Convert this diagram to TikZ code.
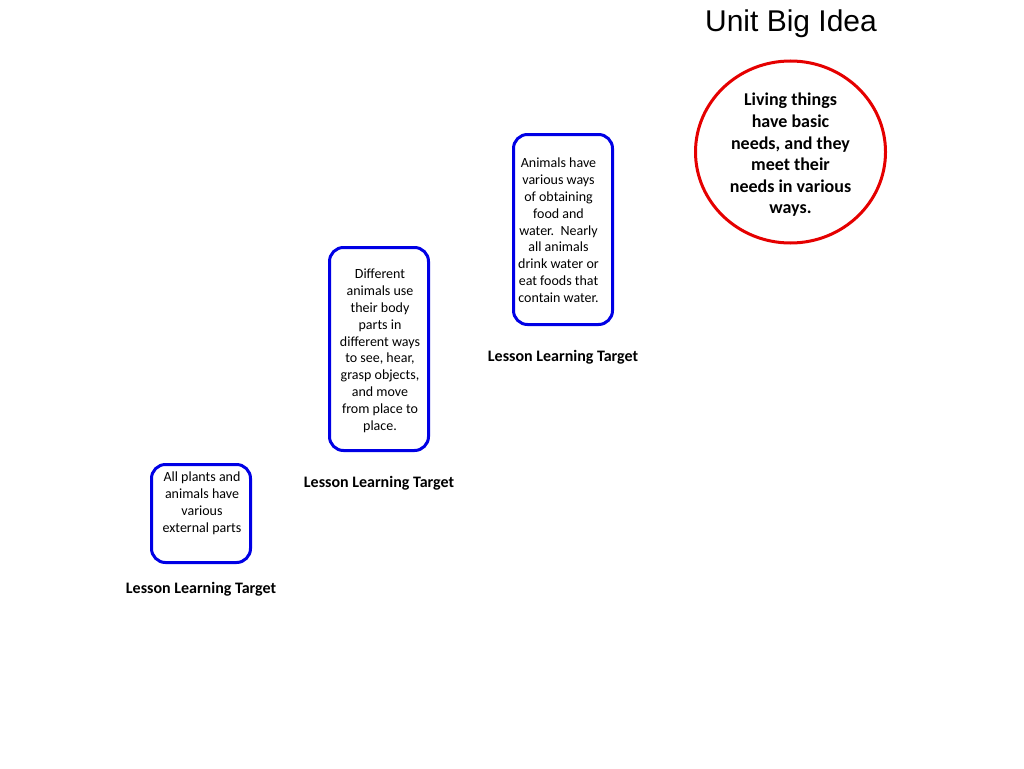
\documentclass[tikz,border=0pt]{standalone}
\usepackage{fontspec}
\setmainfont{Carlito}
\newfontfamily\titlefont{Liberation Sans}
\usetikzlibrary{positioning}

\tikzset{
  targetbox/.style={draw=blue!90!black,line width=3pt,rounded corners=14pt,
    minimum width=99pt,inner sep=0pt},
  boxtext/.style={anchor=north,align=center,inner sep=0pt,
    font=\fontsize{14}{16.8}\selectfont},
  targetlabel/.style={font=\fontsize{16}{19}\selectfont\bfseries,inner sep=0pt}
}

\begin{document}
\begin{tikzpicture}
           [x=1pt,y=-1pt]
           \useasboundingbox (0,0) rectangle (1024,768);

           % title
           \node[font=\titlefont\fontsize{30}{36}\selectfont,inner sep=0pt]
             (title) at (791,24) {Unit Big Idea};

           % big idea circle
           \draw[red!90!black,line width=3pt] (790.5,152) ellipse (95pt and 91pt);
           \node[anchor=north,align=center,inner sep=0pt,
             font=\fontsize{18}{21.6}\selectfont\bfseries] (idea) at (790.5,93)
             {Living things\\have basic\\needs, and they\\meet their\\needs in various\\ways.};

           % lesson targets
           \node[targetbox,minimum height=190pt] (box3) at (563,229.5) {};
           \node[boxtext] (text3) at (558.5,158)
             {Animals have\\various ways\\of obtaining\\food and\\water.\ \ Nearly\\all animals\\drink water or\\eat foods that\\contain water.};
           \node[targetlabel] (label3) at (563,357) {Lesson Learning Target};

           \node[targetbox,minimum height=203pt] (box2) at (379,349) {};
           \node[boxtext] (text2) at (380,269)
             {Different\\animals use\\their body\\parts in\\different ways\\to see, hear,\\grasp objects,\\and move\\from place to\\place.};
           \node[targetlabel] (label2) at (379,483) {Lesson Learning Target};

           \node[targetbox,minimum height=98pt] (box1) at (201,513.5) {};
           \node[boxtext] (text1) at (202,472)
             {All plants and\\animals have\\various\\external parts};
           \node[targetlabel] (label1) at (201,589) {Lesson Learning Target};
         \end{tikzpicture}
\end{document}
